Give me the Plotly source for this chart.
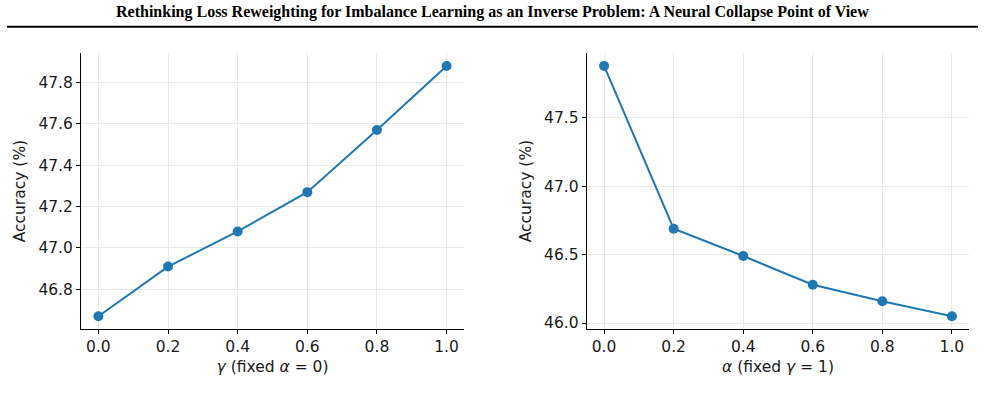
import plotly.graph_objects as go

x_vals = [0.0, 0.2, 0.4, 0.6, 0.8, 1.0]
acc_gamma = [46.67, 46.91, 47.08, 47.27, 47.57, 47.88]
acc_alpha = [47.88, 46.69, 46.49, 46.28, 46.16, 46.05]

title_text = "Rethinking Loss Reweighting for Imbalance Learning as an Inverse Problem: A Neural Collapse Point of View"
y_title = "Accuracy (%)"
x_title_left = "<i>γ</i> (fixed <i>α</i> = 0)"
x_title_right = "<i>α</i> (fixed <i>γ</i> = 1)"

W, H = 985, 405
BLUE = "#1f77b4"
FONT = "DejaVu Sans"
FS = 15.5

fig = go.Figure()
fig.add_trace(go.Scatter(x=x_vals, y=acc_gamma, mode="lines+markers",
                         line=dict(color=BLUE, width=2), marker=dict(size=10, color=BLUE),
                         xaxis="x", yaxis="y", showlegend=False))
fig.add_trace(go.Scatter(x=x_vals, y=acc_alpha, mode="lines+markers",
                         line=dict(color=BLUE, width=2), marker=dict(size=10, color=BLUE),
                         xaxis="x2", yaxis="y2", showlegend=False))

def px_x(p):
    return p / W

def px_y(p):
    return 1 - p / H

common_axis = dict(showline=True, linecolor="black", linewidth=1, mirror=False,
                   ticks="outside", ticklen=4, tickcolor="black", tickwidth=1,
                   showgrid=True, gridcolor="#e8e8e8", gridwidth=1, zeroline=False,
                   tickfont=dict(family=FONT, size=FS, color="#1a1a1a"))

fig.update_layout(
    width=W, height=H,
    margin=dict(l=0, r=0, t=0, b=0),
    paper_bgcolor="white", plot_bgcolor="white",
    font=dict(family=FONT, size=FS, color="#1a1a1a"),
    xaxis=dict(domain=[px_x(81), px_x(464)], range=[-0.05, 1.05], dtick=0.2, tick0=0,
               tickformat=".1f", anchor="y",
               title=dict(text=x_title_left, font=dict(family=FONT, size=FS), standoff=5),
               **common_axis),
    yaxis=dict(domain=[px_y(332), px_y(54)], range=[46.6095, 47.9405], dtick=0.2, tick0=46.0,
               tickformat=".1f", anchor="x",
               title=dict(text=y_title, font=dict(family=FONT, size=FS), standoff=8),
               **common_axis),
    xaxis2=dict(domain=[px_x(586.7), px_x(969.3)], range=[-0.05, 1.05], dtick=0.2, tick0=0,
                tickformat=".1f", anchor="y2",
                title=dict(text=x_title_right, font=dict(family=FONT, size=FS), standoff=5),
                **common_axis),
    yaxis2=dict(domain=[px_y(332), px_y(54)], range=[45.9585, 47.9715], dtick=0.5, tick0=46.0,
                tickformat=".1f", anchor="x2",
                title=dict(text=y_title, font=dict(family=FONT, size=FS), standoff=8),
                **common_axis),
)

fig.add_annotation(text="<b>" + title_text + "</b>", xref="paper", yref="paper",
                   x=0.5, y=px_y(12), xanchor="center", yanchor="middle", showarrow=False,
                   font=dict(family="Liberation Serif", size=16, color="black"))
fig.add_shape(type="line", xref="paper", yref="paper",
              x0=px_x(7), x1=px_x(978), y0=px_y(27), y1=px_y(27),
              line=dict(color="black", width=2))

fig.write_html("out.html")
